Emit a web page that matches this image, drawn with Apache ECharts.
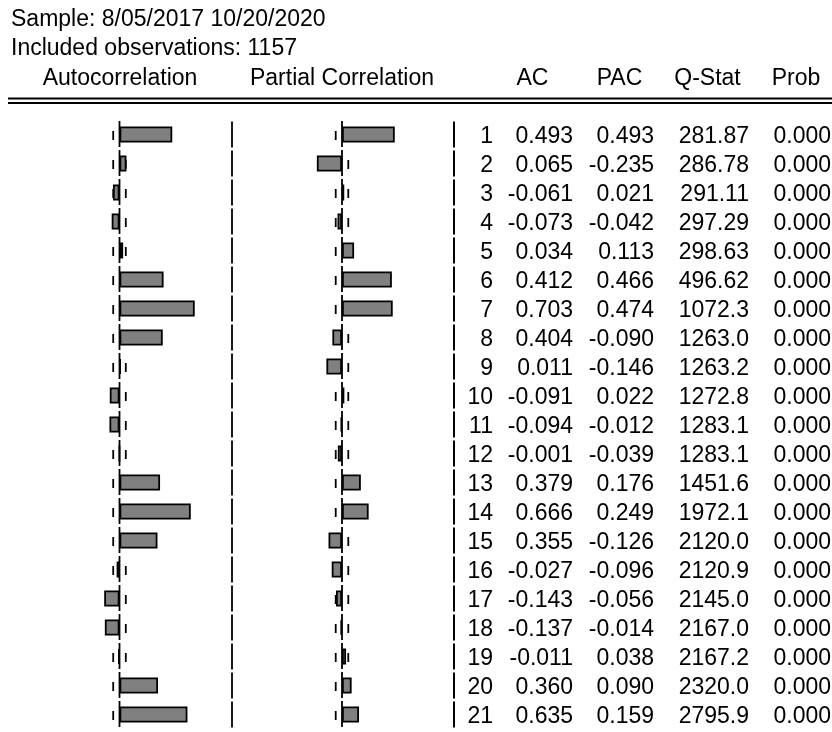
<!DOCTYPE html>
<html>
<head>
<meta charset="utf-8">
<script src="https://cdn.jsdelivr.net/npm/echarts@6/dist/echarts.min.js"></script>
<style>
html,body{margin:0;padding:0;background:#fff;}
#chart{width:832px;height:732px;}
</style>
</head>
<body>
<div id="chart"></div>
<script>
// ---- data ----
const lags = [1,2,3,4,5,6,7,8,9,10,11,12,13,14,15,16,17,18,19,20,21];
const acValues = [0.493,0.065,-0.061,-0.073,0.034,0.412,0.703,0.404,0.011,-0.091,-0.094,-0.001,0.379,0.666,0.355,-0.027,-0.143,-0.137,-0.011,0.360,0.635];
const pacValues = [0.493,-0.235,0.021,-0.042,0.113,0.466,0.474,-0.090,-0.146,0.022,-0.012,-0.039,0.176,0.249,-0.126,-0.096,-0.056,-0.014,0.038,0.090,0.159];
const qStats = ['281.87','286.78','291.11','297.29','298.63','496.62','1072.3','1263.0','1263.2','1272.8','1283.1','1283.1','1451.6','1972.1','2120.0','2120.9','2145.0','2167.0','2167.2','2320.0','2795.9'];
const probs = ['0.000','0.000','0.000','0.000','0.000','0.000','0.000','0.000','0.000','0.000','0.000','0.000','0.000','0.000','0.000','0.000','0.000','0.000','0.000','0.000','0.000'];
const headerLabels = ['Autocorrelation','Partial Correlation','AC','PAC','Q-Stat','Prob'];
const sampleText = 'Sample: 8/05/2017 10/20/2020';
const observations = 1157;
const obsText = 'Included observations: ' + observations;
const bound = 2 / Math.sqrt(observations);

const FONT = "'Liberation Sans', Arial, sans-serif";
const FS = 23;
const categories = lags.map(String);

const chart = echarts.init(document.getElementById('chart'), null, {renderer:'canvas'});

const TOP = 120, HEIGHT = 609;
const grids = [
  {left:12.5, top:TOP, width:214, height:HEIGHT},
  {left:235, top:TOP, width:214, height:HEIGHT},
  {left:454, top:TOP, width:378, height:HEIGHT}
];
const xAxes = grids.map((g,i)=>({gridIndex:i, type:'value', min:-1, max:1, show:false}));
const yAxes = grids.map((g,i)=>({gridIndex:i, type:'category', data:categories, inverse:true, show:false}));

function fmt(v){ return v.toFixed(3); }

function guideRender(sepX){
  return function(params, api){
    const idx = api.value(0);
    const c0 = api.coord([0, idx]);
    const cy = c0[1];
    const lo = api.coord([-bound, idx])[0];
    const hi = api.coord([bound, idx])[0];
    const style = {stroke:'#000', lineWidth:1.8};
    const children = [
      {type:'line', shape:{x1:lo, y1:cy-3.5, x2:lo, y2:cy+5.5}, style:style},
      {type:'line', shape:{x1:hi, y1:cy-3.5, x2:hi, y2:cy+5.5}, style:style}
    ];
    if (sepX != null) {
      children.push({type:'line', shape:{x1:sepX, y1:cy-13, x2:sepX, y2:cy+13}, style:{stroke:'#000', lineWidth:1.8}});
    }
    return {type:'group', children:children};
  };
}
function zeroRender(params, api){
  const idx = api.value(0);
  const c0 = api.coord([0, idx]);
  return {type:'line', shape:{x1:c0[0], y1:c0[1]-13.5, x2:c0[0], y2:c0[1]+12.5}, style:{stroke:'#000', lineWidth:1.8}};
}

const colRight = [493, 573, 654, 749, 831];
function tableRender(params, api){
  const idx = api.value(0);
  const cy = api.coord([0, idx])[1];
  const i = idx;
  const texts = [String(lags[i]), fmt(acValues[i]), fmt(pacValues[i]), qStats[i], probs[i]];
  const children = [
    {type:'line', shape:{x1:454, y1:cy-13, x2:454, y2:cy+13}, style:{stroke:'#000', lineWidth:2}}
  ];
  texts.forEach((t,k)=>{
    children.push({type:'text', x:colRight[k], y:cy+2.2, style:{text:t, font:FS+'px '+FONT, fill:'#000', align:'right', verticalAlign:'middle'}});
  });
  return {type:'group', children:children};
}

const rowIdx = lags.map((l,i)=>[i]);

const option = {
  animation:false,
  backgroundColor:'#fff',
  grid:grids,
  xAxis:xAxes,
  yAxis:yAxes,
  series:[
    {type:'custom', xAxisIndex:0, yAxisIndex:0, data:rowIdx, renderItem:guideRender(232), z:1, silent:true},
    {type:'custom', xAxisIndex:1, yAxisIndex:1, data:rowIdx, renderItem:guideRender(null), z:1, silent:true},
    {type:'bar', xAxisIndex:0, yAxisIndex:0, data:acValues, barWidth:16,
      itemStyle:{color:'#808080', borderColor:'#000', borderWidth:1.8}, z:2, silent:true},
    {type:'bar', xAxisIndex:1, yAxisIndex:1, data:pacValues, barWidth:16,
      itemStyle:{color:'#808080', borderColor:'#000', borderWidth:1.8}, z:2, silent:true},
    {type:'custom', xAxisIndex:0, yAxisIndex:0, data:rowIdx, renderItem:zeroRender, z:3, silent:true},
    {type:'custom', xAxisIndex:1, yAxisIndex:1, data:rowIdx, renderItem:zeroRender, z:3, silent:true},
    {type:'custom', xAxisIndex:2, yAxisIndex:2, data:rowIdx, renderItem:tableRender, z:3, silent:true}
  ],
  graphic:[
    {type:'text', x:11, y:20, style:{text:sampleText, font:FS+'px '+FONT, fill:'#000', verticalAlign:'middle'}},
    {type:'text', x:11, y:48.4, style:{text:obsText, font:FS+'px '+FONT, fill:'#000', verticalAlign:'middle'}},
    {type:'text', x:120, y:78.4, style:{text:headerLabels[0], font:FS+'px '+FONT, fill:'#000', align:'center', verticalAlign:'middle'}},
    {type:'text', x:342, y:78.4, style:{text:headerLabels[1], font:FS+'px '+FONT, fill:'#000', align:'center', verticalAlign:'middle'}},
    {type:'text', x:532.5, y:78.4, style:{text:headerLabels[2], font:FS+'px '+FONT, fill:'#000', align:'center', verticalAlign:'middle'}},
    {type:'text', x:619.5, y:78.4, style:{text:headerLabels[3], font:FS+'px '+FONT, fill:'#000', align:'center', verticalAlign:'middle'}},
    {type:'text', x:707.5, y:78.4, style:{text:headerLabels[4], font:FS+'px '+FONT, fill:'#000', align:'center', verticalAlign:'middle'}},
    {type:'text', x:796, y:78.4, style:{text:headerLabels[5], font:FS+'px '+FONT, fill:'#000', align:'center', verticalAlign:'middle'}},
    {type:'line', shape:{x1:8, y1:98.5, x2:832, y2:98.5}, style:{stroke:'#000', lineWidth:2}},
    {type:'line', shape:{x1:8, y1:103, x2:832, y2:103}, style:{stroke:'#000', lineWidth:2}}
  ]
};
chart.setOption(option);
</script>
</body>
</html>
